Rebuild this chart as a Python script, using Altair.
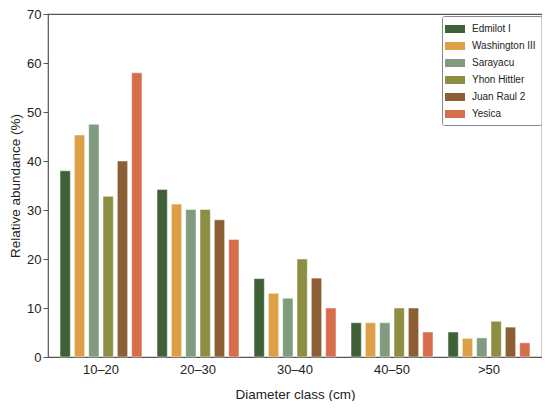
import altair as alt
import pandas as pd

classes = ["10–20", "20–30", "30–40", "40–50", ">50"]
sites = ["Edmilot I", "Washington III", "Sarayacu", "Yhon Hittler", "Juan Raul 2", "Yesica"]
colors = ["#3f6137", "#dda046", "#819b7f", "#8c8f42", "#8b5e34", "#d66d4d"]

edmilot = [38.0, 34.2, 16.0, 7.0, 5.1]
washington = [45.3, 31.2, 13.0, 7.0, 3.8]
sarayacu = [47.5, 30.1, 12.0, 7.0, 3.9]
yhon = [32.8, 30.1, 20.0, 10.0, 7.3]
juan = [40.0, 28.0, 16.1, 10.0, 6.1]
yesica = [58.0, 24.0, 10.0, 5.1, 2.9]

series = [edmilot, washington, sarayacu, yhon, juan, yesica]
rows = []
for site, vals in zip(sites, series):
    for c, v in zip(classes, vals):
        rows.append({"cls": c, "site": site, "value": v})
df = pd.DataFrame(rows)

font = "Liberation Sans"

chart = alt.Chart(df).mark_bar(stroke="#ffffff", strokeWidth=0.5).encode(
    x=alt.X("cls:N", sort=classes, title="Diameter class (cm)",
            scale=alt.Scale(paddingInner=0.155, paddingOuter=0.124),
            axis=alt.Axis(labelAngle=0, ticks=False, labelPadding=6, titlePadding=11,
                          domain=False)),
    xOffset=alt.XOffset("site:N", sort=sites, scale=alt.Scale(paddingInner=0.28)),
    y=alt.Y("value:Q", title="Relative abundance (%)",
            scale=alt.Scale(domain=[0, 70], nice=False),
            axis=alt.Axis(values=[0, 10, 20, 30, 40, 50, 60, 70], grid=False,
                          tickSize=5, labelPadding=2, domain=False,
                          titleX=-33, titleBaseline="middle", titleFontSize=13.5)),
    color=alt.Color("site:N", sort=sites, title=None,
                    scale=alt.Scale(domain=sites, range=colors),
                    legend=alt.Legend(orient="none", legendX=394, legendY=2,
                                      strokeColor="#888888", padding=6,
                                      cornerRadius=2,
                                      symbolType="M-1.5,-0.6L1.5,-0.6L1.5,0.6L-1.5,0.6Z",
                                      symbolSize=178, symbolStrokeWidth=0,
                                      labelFontSize=10, rowPadding=5,
                                      labelOffset=10,
                                      symbolOpacity=1, labelColor="#222222")),
).properties(
    width=494, height=343,
    padding={"left": 40, "top": 6, "right": 0, "bottom": 44},
    autosize=alt.AutoSizeParams(type="none"),
).configure_view(
    stroke="#555555", strokeWidth=1.2
).configure_axis(
    labelFont=font, titleFont=font, labelFontSize=13, titleFontSize=13.5,
    labelColor="#222222", titleColor="#222222", titleFontWeight="normal",
    tickColor="#555555"
).configure_legend(
    labelFont=font
)

chart.save("out.html", embed_options={"renderer": "svg", "actions": False})
